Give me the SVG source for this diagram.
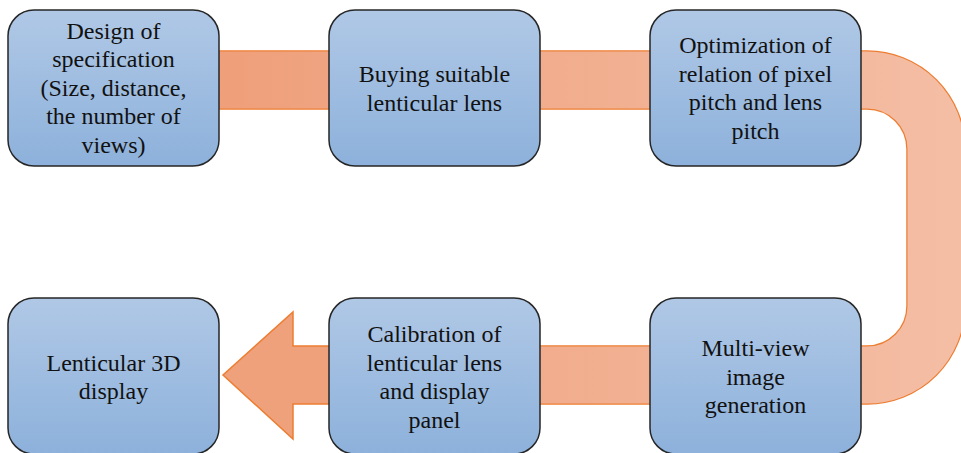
<svg xmlns="http://www.w3.org/2000/svg" width="961" height="453" viewBox="0 0 961 453">
  <defs>
    <linearGradient id="boxFill" x1="0" y1="0" x2="0" y2="1">
      <stop offset="0" stop-color="#B0C8E6"/>
      <stop offset="1" stop-color="#8DB1DB"/>
    </linearGradient>
    <linearGradient id="bandFill" gradientUnits="userSpaceOnUse" x1="219" y1="0" x2="961" y2="0">
      <stop offset="0" stop-color="#EF9F7A"/>
      <stop offset="1" stop-color="#F4BEA5"/>
    </linearGradient>
    <style>
      .box { fill: url(#boxFill); stroke: #262626; stroke-width: 1.5; }
      .lbl { font-family: 'Liberation Serif', 'Times New Roman', serif; font-size: 24px; fill: #111; text-anchor: middle; }
      .bandEdge { fill: none; stroke: #ED7D31; stroke-width: 59.5; }
      .bandFill { fill: none; stroke: url(#bandFill); stroke-width: 57; }
      .arrow { fill: #EFA17C; stroke: #ED7D31; stroke-width: 1.5; }
    </style>
  </defs>
  <rect width="961" height="453" fill="#FFFFFF"/>
  <g id="connectors">
    <path class="bandEdge" d="M 215 80 H 867 A 69 69 0 0 1 936 149 V 306 A 69 69 0 0 1 867 375 H 335"/>
    <path class="bandFill" d="M 215 80 H 867 A 69 69 0 0 1 936 149 V 306 A 69 69 0 0 1 867 375 H 335"/>
    <polygon class="arrow" points="333,346 293,346 293,312 223,375 293,439 293,404 333,404"/>
  </g>
  <g id="node1">
    <rect class="box" x="8" y="10" width="211" height="156" rx="26"/>
    <text class="lbl"><tspan x="113.5" y="38.5">Design of</tspan><tspan x="113.5" y="67">specification</tspan><tspan x="113.5" y="95.5">(Size, distance,</tspan><tspan x="113.5" y="124">the number of</tspan><tspan x="113.5" y="152.5">views)</tspan></text>
  </g>
  <g id="node2">
    <rect class="box" x="329" y="10" width="211" height="156" rx="26"/>
    <text class="lbl"><tspan x="434.5" y="82">Buying suitable</tspan><tspan x="434.5" y="110.5">lenticular lens</tspan></text>
  </g>
  <g id="node3">
    <rect class="box" x="650" y="10" width="211" height="156" rx="26"/>
    <text class="lbl"><tspan x="755.5" y="53">Optimization of</tspan><tspan x="755.5" y="81.5">relation of pixel</tspan><tspan x="755.5" y="110">pitch and lens</tspan><tspan x="755.5" y="138.5">pitch</tspan></text>
  </g>
  <g id="node4">
    <rect class="box" x="650" y="298" width="211" height="156" rx="26"/>
    <text class="lbl"><tspan x="755.5" y="356">Multi-view</tspan><tspan x="755.5" y="384.5">image</tspan><tspan x="755.5" y="413">generation</tspan></text>
  </g>
  <g id="node5">
    <rect class="box" x="329" y="298" width="211" height="156" rx="26"/>
    <text class="lbl"><tspan x="434.5" y="342">Calibration of</tspan><tspan x="434.5" y="370.5">lenticular lens</tspan><tspan x="434.5" y="399">and display</tspan><tspan x="434.5" y="427.5">panel</tspan></text>
  </g>
  <g id="node6">
    <rect class="box" x="8" y="298" width="211" height="156" rx="26"/>
    <text class="lbl"><tspan x="113.5" y="370.5">Lenticular 3D</tspan><tspan x="113.5" y="399">display</tspan></text>
  </g>
</svg>
